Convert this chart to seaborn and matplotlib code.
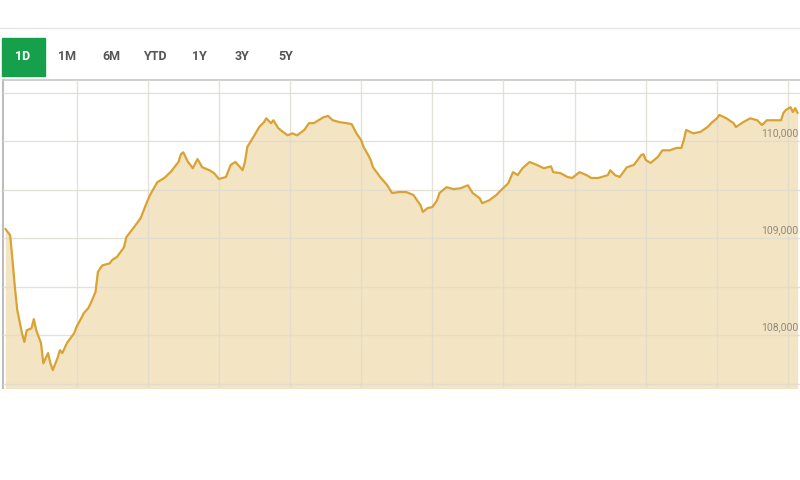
import numpy as np
import pandas as pd
import seaborn as sns
import matplotlib.pyplot as plt
from matplotlib.lines import Line2D
from matplotlib.patches import Rectangle
import matplotlib.transforms as mtransforms

# Intraday index level, minutes after the 9:30 open
minutes = [0, 2, 3, 4, 5, 7, 8, 9, 11, 12,
           13, 15, 16, 18, 19, 20, 22, 23, 24, 26,
           29, 30, 32, 33, 35, 36, 38, 39, 40, 41,
           44, 45, 47, 50, 51, 54, 57, 60, 61, 64,
           67, 70, 72, 73, 74, 75, 77, 78, 79, 81,
           83, 86, 88, 90, 93, 95, 97, 99, 100, 101,
           102, 105, 107, 109, 110, 112, 113, 115, 117, 119,
           121, 123, 126, 128, 130, 132, 134, 136, 138, 141,
           144, 146, 148, 150, 151, 153, 154, 155, 158, 161,
           163, 166, 169, 172, 175, 176, 178, 180, 182, 183,
           186, 189, 192, 195, 197, 200, 201, 204, 207, 209,
           212, 214, 216, 218, 221, 224, 227, 230, 231, 234,
           237, 239, 242, 245, 247, 250, 254, 255, 257, 259,
           262, 265, 268, 269, 270, 272, 275, 277, 280, 283,
           285, 286, 287, 290, 293, 296, 298, 300, 301, 304,
           307, 308, 311, 314, 317, 319, 321, 324, 327, 328,
           329, 331, 332, 333, 334]
index_level = [109095, 109030, 108775, 108495, 108260, 108020, 107930, 108050, 108070, 108165,
               108050, 107920, 107710, 107815, 107710, 107640, 107765, 107845, 107815, 107920,
               108020, 108085, 108175, 108225, 108280, 108330, 108445, 108650, 108690, 108720,
               108740, 108775, 108805, 108905, 109010, 109105, 109205, 109390, 109445, 109575,
               109620, 109690, 109755, 109785, 109865, 109885, 109785, 109755, 109720, 109815,
               109730, 109700, 109670, 109610, 109630, 109755, 109785, 109730, 109700, 109785,
               109940, 110060, 110145, 110195, 110235, 110185, 110215, 110135, 110095, 110060,
               110080, 110060, 110115, 110185, 110185, 110215, 110245, 110260, 110215, 110195,
               110185, 110175, 110080, 110010, 109940, 109855, 109805, 109730, 109630, 109545,
               109465, 109475, 109475, 109445, 109340, 109270, 109310, 109320, 109390, 109465,
               109525, 109505, 109515, 109545, 109465, 109410, 109360, 109390, 109445, 109495,
               109565, 109680, 109650, 109720, 109785, 109755, 109720, 109740, 109680, 109670,
               109630, 109620, 109680, 109650, 109620, 109620, 109650, 109700, 109650, 109630,
               109730, 109755, 109855, 109865, 109805, 109775, 109835, 109905, 109905, 109930,
               109930, 110010, 110115, 110080, 110095, 110145, 110195, 110235, 110270, 110235,
               110185, 110145, 110195, 110235, 110215, 110165, 110215, 110215, 110215, 110290,
               110320, 110350, 110300, 110340, 110290]

range_buttons = ["1D", "1M", "6M", "YTD", "1Y", "3Y", "5Y"]
y_labels = [108000, 109000, 110000]

df = pd.DataFrame({"minute": minutes, "level": index_level})

line_color = "#D9A332"
fill_color = "#F3E4C3"
grid_color = "#DEDAD2"

sns.set_style("white")
plt.rcParams["font.family"] = ["Roboto", "DejaVu Sans"]

fig = plt.figure(figsize=(8, 4.8), dpi=100)
ax = fig.add_axes([3 / 800, 92 / 480, 797 / 800, 308 / 480])

ax.fill_between(df["minute"], df["level"], 107000, color=fill_color, lw=0, zorder=1)
sns.lineplot(data=df, x="minute", y="level", ax=ax, color=line_color, linewidth=1.6, zorder=3)

ax.set_xlim(-1, 335)
ax.set_ylim(107455, 110630)
ax.set_xticks(range(30, 331, 30))
ax.set_yticks(range(107500, 110501, 500))
ax.grid(True, color=grid_color, linewidth=1, zorder=2)
ax.set_axisbelow(False)
for gl in ax.get_xgridlines() + ax.get_ygridlines():
    gl.set_alpha(0.8)
    gl.set_zorder(2)
ax.tick_params(length=0, labelbottom=False, labelleft=False)
ax.set_xlabel("")
ax.set_ylabel("")

for side in ["right", "bottom"]:
    ax.spines[side].set_visible(False)
ax.spines["left"].set_color("#BDBDBD")
ax.spines["left"].set_linewidth(1.5)
ax.spines["top"].set_color("#C8C8C8")
ax.spines["top"].set_linewidth(1.2)

trans = mtransforms.blended_transform_factory(ax.transAxes, ax.transData)
for v in y_labels:
    ax.annotate(f"{v:,}", xy=(0.998, v), xycoords=trans, xytext=(0, 2),
                textcoords="offset points", ha="right", va="bottom",
                fontsize=7.5, color="#8F8A80", zorder=4)

# range selector bar
fig.add_artist(Line2D([0, 1], [1 - 28 / 480, 1 - 28 / 480], color="#E6E6E6", lw=1))
fig.add_artist(Rectangle((2 / 800, 1 - 76 / 480), 43 / 800, 38 / 480,
                         color="#17A04C", transform=fig.transFigure))
button_x = [23, 67, 111, 155, 199, 242, 286]
for label, bx in zip(range_buttons, button_x):
    fig.text(bx / 800, 1 - 57 / 480, label, ha="center", va="center",
             fontsize=9, fontweight="bold",
             color="white" if label == "1D" else "#555555")

fig.savefig("out.png", dpi=100)
